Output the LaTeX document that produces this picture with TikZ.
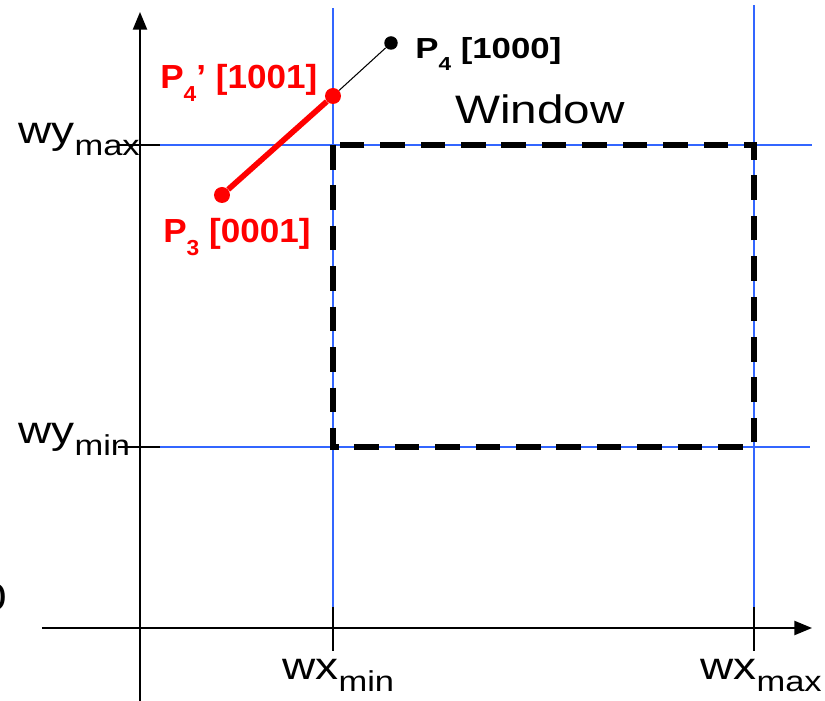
\documentclass[tikz,border=0pt]{standalone}
\usepackage{fontspec}
\setmainfont{Liberation Sans}[FakeStretch=1.2]
\newfontfamily\codefont{Liberation Sans}[FakeStretch=1.05,Ligatures=TeX]
\usepackage{graphicx}
\usetikzlibrary{arrows.meta}
\definecolor{gridblue}{HTML}{3366FF}
\newcommand{\wsub}[1]{\raisebox{-.31em}{\scalebox{.75}{#1}}}
\newcommand{\psub}[1]{\raisebox{-.38em}{\scalebox{.65}{#1}}}
\tikzset{
  axislabel/.style={font=\fontsize{21.8}{26}\selectfont, anchor=base west, inner sep=0pt},
  ptlabel/.style={font=\fontsize{16.5}{20}\selectfont\bfseries, anchor=base west, inner sep=0pt},
  redlabel/.style={ptlabel, red, font=\codefont\fontsize{19}{22}\selectfont\bfseries},
  reddot/.style={circle, fill=red, inner sep=0pt, minimum size=0.32cm},
  blackdot/.style={circle, fill=black, inner sep=0pt, minimum size=0.27cm},
  gridline/.style={gridblue, line width=1.1pt},
  ticmark/.style={black, line width=1.1pt}
}

\begin{document}
\begin{tikzpicture}[>={Triangle[length=10pt,width=8pt]}]
    \useasboundingbox (-2.8,-1.46) rectangle (13.7,12.56);
    \draw[gridline] (3.86,0.42) -- (3.86,12.4);
    \draw[gridline] (12.28,0.42) -- (12.28,12.46);
    \draw[gridline] (0.4,9.66) -- (13.44,9.66);
    \draw[gridline] (0.4,3.62) -- (13.4,3.62);
    \draw[line width=3.1pt, dash pattern=on 14pt off 9pt]
      (3.86,9.66) -- (3.86,3.62) -- (12.28,3.62) -- (12.28,9.66) -- cycle;
    \draw[->, line width=1.1pt] (-1.96,0) -- (13.44,0);
    \draw[->, line width=1.1pt] (0,-1.46) -- (0,12.32);
    \draw[ticmark] (3.86,0.42) -- (3.86,-0.46);
    \draw[ticmark] (12.28,0.42) -- (12.28,-0.46);
    \draw[ticmark] (-0.44,9.66) -- (0.4,9.66);
    \draw[ticmark] (-0.44,3.62) -- (0.4,3.62);
    \node[reddot] (p3) at (1.64,8.66) {};
    \node[reddot] (p4c) at (3.86,10.64) {};
    \node[blackdot] (p4) at (5.02,11.7) {};
    \draw[red, line width=3.2pt] (p3) -- (p4c);
    \draw[line width=0.6pt] (p4c) -- (p4);
    \node[ptlabel] (p4lbl) at (5.5,11.38) {P\psub{4} [1000]};
    \node[redlabel] (p4clbl) at (0.4,10.78) {P\psub{4}’ [1001]};
    \node[redlabel] (p3lbl) at (0.46,7.7) {P\psub{3} [0001]};
    \node[axislabel, font=\fontsize{22.6}{27}\selectfont] (winlbl) at (6.3,10.08) {Window};
    \node[axislabel] (ymaxlbl) at (-2.44,9.68) {wy\wsub{max}};
    \node[axislabel] (yminlbl) at (-2.44,3.68) {wy\wsub{min}};
    \node[axislabel] (xminlbl) at (2.84,-1.04) {wx\wsub{min}};
    \node[axislabel] (xmaxlbl) at (11.2,-1.04) {wx\wsub{max}};
    \node[axislabel] (zero) at (-3.17,0.34) {0};
\end{tikzpicture}
\end{document}
